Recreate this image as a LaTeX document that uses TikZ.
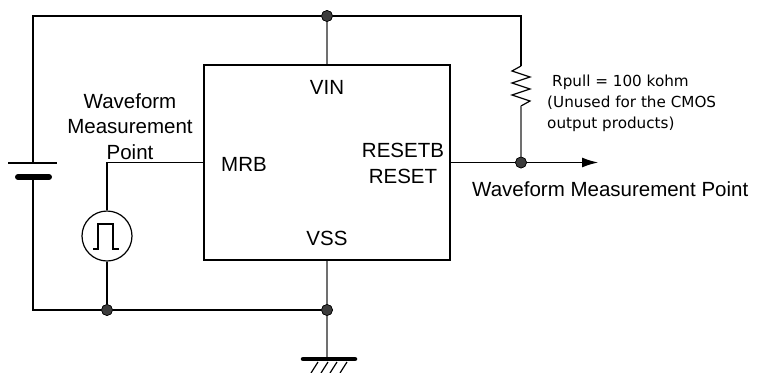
\documentclass[tikz,border=0pt]{standalone}
\usepackage{fontspec}
\setmainfont{Liberation Sans}
\newfontfamily\notefont{DejaVu Sans}
\usetikzlibrary{arrows.meta}
\definecolor{dotc}{HTML}{3C3C3C}
\definecolor{vgray}{HTML}{707070}
\begin{document}
\begin{tikzpicture}[x=1pt,y=-1pt,
  wire/.style={line width=1.2pt, black},
  vwire/.style={line width=1.2pt, vgray},
  lab/.style={font=\fontsize{20.5}{25.5}\selectfont, inner sep=0pt},
  note/.style={font=\notefont\fontsize{15.2}{21}\selectfont, inner sep=0pt, align=left},
  junction/.style={circle, fill=dotc, draw=black, line width=0.6pt, minimum size=11pt, inner sep=0pt}]
\useasboundingbox (0,0) rectangle (759,372);

% IC box
\node (ic) [draw, line width=1.8pt, minimum width=246pt, minimum height=195pt, inner sep=0pt] at (327,162.5) {};

% coordinates
\coordinate (tl) at (33,16);
\coordinate (tr) at (521,16);
\coordinate (batT) at (33,163);
\coordinate (batB) at (33,177);
\coordinate (bl) at (33,310);
\coordinate (mrb) at (107,162.5);
\coordinate (rtop) at (521,66);
\coordinate (rbot) at (521,106);
\coordinate (arrowend) at (598,162.5);
\coordinate (gbar) at (327,359);

% junctions
\node (ttop) [junction] at (327,16) {};
\node (out) [junction] at (521,162.5) {};
\node (pbot) [junction] at (107,310) {};
\node (gnd) [junction] at (327,310) {};

% pulse source
\node (pulse) [circle, draw, line width=1.2pt, minimum size=50pt, inner sep=0pt] at (107,236) {};

% wires
\draw[wire] (batT) -- (tl) -- (ttop) -- (tr) -- (rtop);
\draw[vwire] (ttop) -- (ic.north);
\draw[wire] (rtop) -- (512,71) -- (530,77) -- (512,83) -- (530,89) -- (512,95) -- (530,101) -- (rbot);
\draw[vwire] (rbot) -- (out);
\draw[wire, -{Latex[length=16pt,width=10pt]}] (ic.east) -- (out) -- (arrowend);
\draw[wire] (ic.west) -- (mrb) -- (pulse.north);
\draw[wire] (pulse.south) -- (pbot);
\draw[wire] (batB) -- (bl) -- (pbot) -- (gnd);
\draw[vwire] (ic.south) -- (gnd) -- (gbar);

% battery plates
\draw[line width=1.4pt] (8,163) -- (57,163);
\draw[line width=6pt, line cap=round] (18,177) -- (49,177);

% pulse glyph
\draw[line width=1.3pt] (93,249) -- (98,249) -- (98,224) -- (113,224) -- (113,249) -- (119,249);

% ground
\draw[line width=4.5pt, line cap=round] (303,359) -- (355,359);
\foreach \x in {318,328,337,347} \draw[line width=1.2pt] (\x,362) -- (\x-7,373);

% redraw junctions on top
\foreach \n in {ttop,out,pbot,gnd} \node[junction] at (\n) {};

% labels
\node (vin) [lab, anchor=base] at (327,94) {VIN};
\node (mrbl) [lab, anchor=base] at (244,171) {MRB};
\node (vss) [lab, anchor=base] at (327,245) {VSS};
\node (rst) [lab, anchor=base, align=center] at (403,183) {RESETB\\RESET};
\node (wl) [lab, anchor=base, align=center] at (130,159) {Waveform\\Measurement\\Point};
\node (wr) [lab, anchor=base west] at (472,196) {Waveform Measurement Point};
\node (rp) [note, anchor=base west] at (547,128) {\hspace{5pt}Rpull = 100 kohm\\(Unused for the CMOS\\output products)};
\end{tikzpicture}
\end{document}
